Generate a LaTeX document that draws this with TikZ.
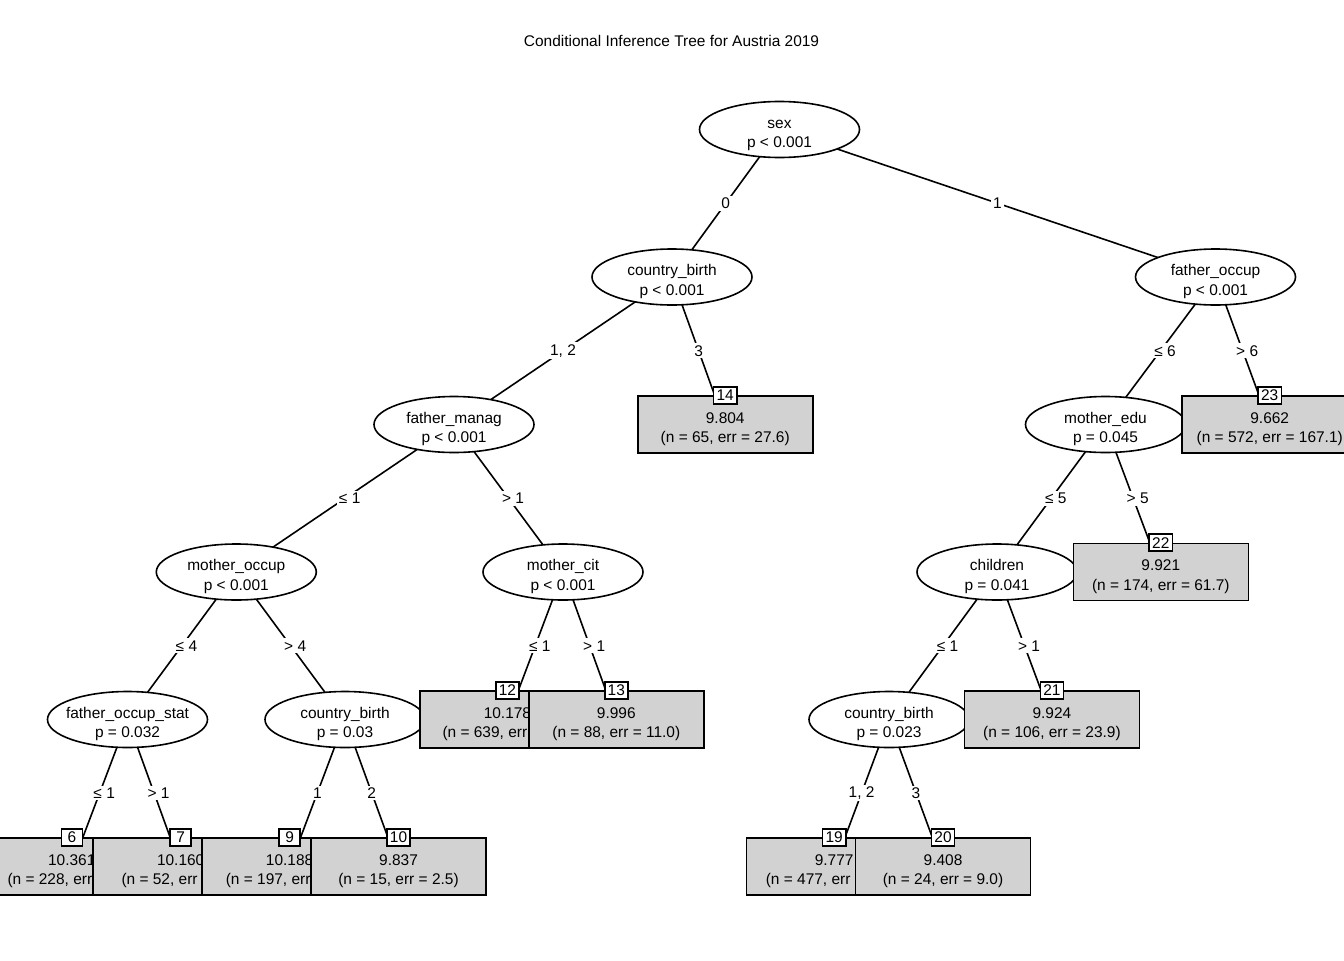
\documentclass[tikz,border=0pt]{standalone}
\usepackage{fontspec}
\setmainfont{Liberation Sans}
\usetikzlibrary{shapes.geometric}
\usetikzlibrary{backgrounds}

% inner node: ellipse with variable name and p value
\newcommand{\splitnode}[5]{%
  \node[inner] (#1) at (#2,#3) {};
  \node[txt] (#1v) at (#2,#3-1.5) {#4};
  \node[txt] (#1p) at (#2,#3+18) {#5};
}
% terminal node: grey box, mean, counts and number tag
\newcommand{\leafnode}[6]{%
  \node[leaf] (#1) at (#2,#3) {};
  \node[txt] (#1v) at (#2,#3-1.5) {#5};
  \node[txt] (#1n) at (#2,#3+18) {#6};
  \node[idbox] (#1id) at (#1.north) {#4};
}
% terminal node partly hidden by its right neighbour
\newcommand{\cutleaf}[7]{%
  \node[leaf] (#1) at (#2,#3) {};
  \node[txt] (#1v) at (#2,#3-1.5) {#5};
  \node[txt, anchor=base west] (#1n) at (#7,#3+18) {#6};
  \node[idbox] (#1id) at (#1.north) {#4};
}

\begin{document}
\begin{tikzpicture}[x=0.75pt, y=-0.75pt, line width=1.2pt,
    font=\fontsize{11.6pt}{14pt}\selectfont,
    inner/.style={ellipse, draw, fill=white, inner sep=0pt,
      minimum width=120pt, minimum height=42pt},
    leaf/.style={rectangle, draw, fill=lightgray!70, inner sep=0pt,
      minimum width=131.25pt, minimum height=42.75pt},
    idbox/.style={rectangle, draw, fill=white, inner xsep=2.25pt, inner ysep=0pt,
      minimum width=15.75pt, minimum height=12.75pt},
    txt/.style={anchor=base, inner sep=0pt},
    edge/.style={line width=1.2pt},
    elab/.style={fill=white, inner sep=1.5pt},
    ineq/.style={elab, xshift=3.4pt}]
  \useasboundingbox (0,0) rectangle (1344,960);

  \node[txt] (title) at (671.5,46.5) {Conditional Inference Tree for Austria 2019};

  \splitnode{n1}{779.5}{129.5}{sex}{p < 0.001}
  \splitnode{n2}{672}{277}{country\_birth}{p < 0.001}
  \splitnode{n3}{454}{424.5}{father\_manag}{p < 0.001}
  \splitnode{n4}{236.3}{572}{mother\_occup}{p < 0.001}
  \splitnode{n5}{127.5}{719.5}{father\_occup\_stat}{p = 0.032}
  \cutleaf{n6}{71.8}{866.5}{6}{10.361}{(n = 228, err}{6.7}
  \cutleaf{n7}{180.7}{866.5}{7}{10.160}{(n = 52, err =}{120.7}
  \splitnode{n8}{345}{719.5}{country\_birth}{p = 0.03}
  \cutleaf{n9}{289.6}{866.5}{9}{10.188}{(n = 197, err}{225}
  \leafnode{n10}{398.5}{866.5}{10}{9.837}{(n = 15, err = 2.5)}
  \splitnode{n11}{563}{572}{mother\_cit}{p < 0.001}
  \cutleaf{n12}{507.4}{719.5}{12}{10.178}{(n = 639, err}{441.7}
  \leafnode{n13}{616.3}{719.5}{13}{9.996}{(n = 88, err = 11.0)}
  \leafnode{n14}{725.2}{424.5}{14}{9.804}{(n = 65, err = 27.6)}
  \splitnode{n15}{1215.5}{277}{father\_occup}{p < 0.001}
  \splitnode{n16}{1105.5}{424.5}{mother\_edu}{p = 0.045}
  \splitnode{n17}{997}{572}{children}{p = 0.041}
  \splitnode{n18}{889}{719.5}{country\_birth}{p = 0.023}
  \cutleaf{n19}{834.1}{866.5}{19}{9.777}{(n = 477, err =}{765}
  \leafnode{n20}{943}{866.5}{20}{9.408}{(n = 24, err = 9.0)}
  \leafnode{n21}{1051.9}{719.5}{21}{9.924}{(n = 106, err = 23.9)}
  \leafnode{n22}{1160.8}{572}{22}{9.921}{(n = 174, err = 61.7)}
  \leafnode{n23}{1269.7}{424.5}{23}{9.662}{(n = 572, err = 167.1)}

  % edges go centre to centre, under the nodes
  \begin{scope}[on background layer]
    \fill[white] (0,0) rectangle (1344,960);
    \draw[edge] (n1.center) -- node[elab]{0} (n2.center);
    \draw[edge] (n1.center) -- node[elab]{1} (n15.center);
    \draw[edge] (n2.center) -- node[elab]{1, 2} (n3.center);
    \draw[edge] (n2.center) -- node[elab]{3} (n14.center);
    \draw[edge] (n3.center) -- node[ineq]{≤ 1} (n4.center);
    \draw[edge] (n3.center) -- node[ineq]{> 1} (n11.center);
    \draw[edge] (n4.center) -- node[ineq]{≤ 4} (n5.center);
    \draw[edge] (n4.center) -- node[ineq]{> 4} (n8.center);
    \draw[edge] (n5.center) -- node[ineq]{≤ 1} (n6.center);
    \draw[edge] (n5.center) -- node[ineq]{> 1} (n7.center);
    \draw[edge] (n8.center) -- node[elab]{1} (n9.center);
    \draw[edge] (n8.center) -- node[elab]{2} (n10.center);
    \draw[edge] (n11.center) -- node[ineq]{≤ 1} (n12.center);
    \draw[edge] (n11.center) -- node[ineq]{> 1} (n13.center);
    \draw[edge] (n15.center) -- node[ineq]{≤ 6} (n16.center);
    \draw[edge] (n15.center) -- node[ineq]{> 6} (n23.center);
    \draw[edge] (n16.center) -- node[ineq]{≤ 5} (n17.center);
    \draw[edge] (n16.center) -- node[ineq]{> 5} (n22.center);
    \draw[edge] (n17.center) -- node[ineq]{≤ 1} (n18.center);
    \draw[edge] (n17.center) -- node[ineq]{> 1} (n21.center);
    \draw[edge] (n18.center) -- node[elab]{1, 2} (n19.center);
    \draw[edge] (n18.center) -- node[elab]{3} (n20.center);
  \end{scope}
\end{tikzpicture}
\end{document}
